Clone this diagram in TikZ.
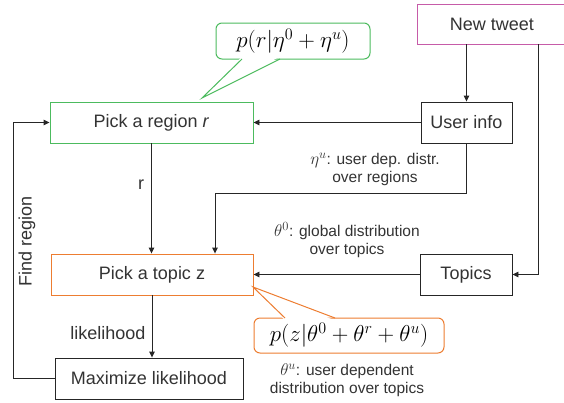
\documentclass[tikz,border=0pt]{standalone}
\usepackage{fix-cm}
\usepackage{fontspec}
\setmainfont{Liberation Sans}
\DeclareMathSizes{15.5}{17}{12.5}{9}
\usetikzlibrary{arrows.meta,calc}
\definecolor{gcol}{HTML}{4CBB5E}
\definecolor{mcol}{HTML}{C65BA8}
\definecolor{ocol}{HTML}{ED7D31}
\definecolor{kcol}{HTML}{262626}
\definecolor{tcol}{HTML}{333333}
\begin{document}
\begin{tikzpicture}[x=1pt,y=-1pt,
  box/.style={draw=kcol,line width=0.9pt,fill=white,text=tcol,inner sep=0pt,
    font=\fontsize{18}{21}\selectfont},
  arr/.style={draw=kcol,line width=0.9pt,-{Stealth[length=6pt,width=5.5pt,inset=0pt]}},
  lbl/.style={text=tcol,font=\fontsize{18}{21}\selectfont,inner sep=0pt},
  note/.style={text=tcol,font=\fontsize{15.5}{18}\selectfont,align=center,inner sep=0pt},
  call/.style={rounded corners=6pt,line width=1pt,fill=white,inner sep=0pt,
    font=\fontsize{23}{25}\selectfont}]
\useasboundingbox (0,0) rectangle (564,402);

% nodes
\node[box,draw=mcol,minimum width=150pt,minimum height=40pt] (tweet) at (492,24) {New tweet};
\node[box,minimum width=91pt,minimum height=41pt] (user) at (466.5,122.5) {User info};
\node[box,draw=gcol,minimum width=203pt,minimum height=41pt] (region) at (151.5,122.5) {Pick a region \textit{r}};
\node[box,draw=ocol,minimum width=202pt,minimum height=41pt] (topic) at (152,274.5) {Pick a topic z};
\node[box,minimum width=92pt,minimum height=41pt] (topics) at (466,274.5) {Topics};
\node[box,minimum width=188pt,minimum height=41pt] (maxl) at (149,378.5) {Maximize likelihood};

% connectors
\draw[arr] (tweet.south -| user.north) -- (user.north);
\draw[arr] ([xshift=46pt]tweet.south) |- (topics.east);
\draw[arr] (user.west) -- (region.east);
\draw[arr] (user.south) -- ++(0,50) -| ([xshift=63pt]topic.north);
\draw[arr] (region.south) -- (region.south |- topic.north);
\draw[arr] (topics.west) -- (topic.east);
\draw[arr] (topic.south) -- (topic.south |- maxl.north);
\draw[arr] (maxl.west) -- ++(-41,0) |- (region.west);

% labels
\node[lbl] (lr) at (141,185) {r};
\node[lbl] (llik) at (108,333) {likelihood};
\node[lbl,rotate=90] (lfind) at (27,241) {Find region};
\node[note] (eta) at (375,169.5) {$\eta^{u}$: user dep. distr.\\over regions};
\node[note] (th0) at (347,240) {$\theta^{0}$: global distribution\\over topics};
\node[note] (thu) at (347,380.5) {$\theta^{u}$: user dependent\\distribution over topics};

% green callout
\node[call,draw=gcol,minimum width=154pt,minimum height=36pt] (c1) at (293,41) {$p(r|\eta^{0}+\eta^{u})$};
\coordinate (gtip) at (202,98);
\fill[white] (242,56.5) -- (gtip) -- (280,56.5) -- cycle;
\draw[gcol,line width=1pt,line join=miter] (242,59) -- (gtip) -- (280,59);

% orange callout
\node[call,draw=ocol,minimum width=190pt,minimum height=35pt] (c2) at (349,335.5) {$p(z|\theta^{0}+\theta^{r}+\theta^{u})$};
\coordinate (otip) at (253,287);
\fill[white] (285,320.5) -- (otip) -- (335,320.5) -- cycle;
\draw[ocol,line width=1pt,line join=miter] (285,318) -- (otip) -- (335,318);
\end{tikzpicture}
\end{document}
